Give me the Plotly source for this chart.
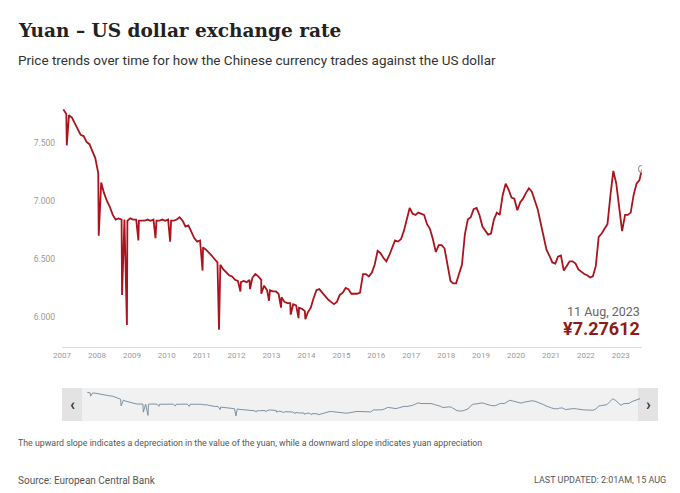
import plotly.graph_objects as go
import pandas as pd

# ---- data (monthly readings, approx.) ----
rate_2007 = [7.79, 7.75, 7.74, 7.72, 7.67, 7.63, 7.57, 7.56, 7.51, 7.49, 7.42, 7.37]
rate_2008 = [7.24, 7.16, 7.07, 7.00, 6.95, 6.88, 6.84, 6.85, 6.84, 6.84, 6.83, 6.85]
rate_2009 = [6.84, 6.84, 6.83, 6.83, 6.83, 6.84, 6.83, 6.84, 6.83, 6.83, 6.84, 6.83]
rate_2010 = [6.84, 6.83, 6.83, 6.84, 6.86, 6.83, 6.78, 6.79, 6.73, 6.68, 6.65, 6.66]
rate_2011 = [6.60, 6.58, 6.56, 6.53, 6.50, 6.47, 6.45, 6.41, 6.38, 6.36, 6.35, 6.32]
rate_2012 = [6.31, 6.30, 6.31, 6.30, 6.32, 6.34, 6.37, 6.35, 6.32, 6.27, 6.23, 6.23]
rate_2013 = [6.22, 6.22, 6.20, 6.17, 6.13, 6.12, 6.12, 6.11, 6.10, 6.08, 6.07, 6.05]
rate_2014 = [6.04, 6.08, 6.16, 6.23, 6.24, 6.21, 6.18, 6.15, 6.13, 6.11, 6.13, 6.19]
rate_2015 = [6.21, 6.25, 6.24, 6.20, 6.20, 6.20, 6.21, 6.37, 6.37, 6.35, 6.38, 6.45]
rate_2016 = [6.57, 6.55, 6.51, 6.48, 6.53, 6.59, 6.66, 6.65, 6.67, 6.74, 6.84, 6.94]
rate_2017 = [6.89, 6.88, 6.90, 6.89, 6.88, 6.80, 6.76, 6.67, 6.56, 6.62, 6.62, 6.59]
rate_2018 = [6.43, 6.31, 6.29, 6.29, 6.37, 6.45, 6.71, 6.84, 6.86, 6.93, 6.94, 6.88]
rate_2019 = [6.78, 6.74, 6.71, 6.72, 6.84, 6.90, 6.88, 7.05, 7.15, 7.10, 7.03, 7.02]
rate_2020 = [6.92, 6.99, 7.02, 7.07, 7.11, 7.08, 7.00, 6.93, 6.81, 6.70, 6.58, 6.53]
rate_2021 = [6.47, 6.46, 6.52, 6.53, 6.40, 6.44, 6.48, 6.48, 6.46, 6.41, 6.39, 6.37]
rate_2022 = [6.36, 6.34, 6.35, 6.44, 6.69, 6.72, 6.76, 6.80, 7.05, 7.26, 7.15, 6.95]
rate_2023 = [6.74, 6.88, 6.88, 6.90, 7.05, 7.15, 7.18]

last_date = "2023-08-11"
last_value = 7.27612

# single-day outliers visible in the chart
spike_dates = ["2007-02-20", "2008-01-20", "2008-09-20", "2008-11-10", "2009-03-10",
               "2009-09-05", "2010-02-05", "2011-01-10", "2011-07-01", "2012-02-10",
               "2012-05-20", "2012-09-15", "2012-12-05", "2013-04-10", "2013-07-20",
               "2013-10-10", "2013-12-20"]
spike_values = [7.48, 6.70, 6.19, 5.93, 6.66,
                6.68, 6.65, 6.40, 5.89, 6.22,
                6.24, 6.20, 6.14, 6.08, 6.02,
                5.99, 5.98]

year_labels = [str(y) for y in range(2007, 2024)]
ytick_vals = [6.0, 6.5, 7.0, 7.5]
ytick_text = ["6.000", "6.500", "7.000", "7.500"]

yearly = {2007: rate_2007, 2008: rate_2008, 2009: rate_2009, 2010: rate_2010,
          2011: rate_2011, 2012: rate_2012, 2013: rate_2013, 2014: rate_2014,
          2015: rate_2015, 2016: rate_2016, 2017: rate_2017, 2018: rate_2018,
          2019: rate_2019, 2020: rate_2020, 2021: rate_2021, 2022: rate_2022,
          2023: rate_2023}

rows = []
for yr, vals in yearly.items():
    for m, v in enumerate(vals, start=1):
        rows.append((pd.Timestamp(yr, m, 15), v))
for d, v in zip(spike_dates, spike_values):
    rows.append((pd.Timestamp(d), v))
rows.append((pd.Timestamp(last_date), last_value))
df = pd.DataFrame(rows, columns=["date", "rate"]).sort_values("date")

# ---- layout helpers (pixel -> paper) ----
W, H = 680, 493
ML, MR, MT, MB = 62, 18, 100, 60
PW, PH = W - ML - MR, H - MT - MB


def pxx(x):
    return (x - ML) / PW


def pxy(y):
    return (H - MB - y) / PH


RED = "#aa141c"
fig = go.Figure()
fig.add_trace(go.Scatter(x=df["date"], y=df["rate"], mode="lines",
                         line=dict(color=RED, width=1.8), hoverinfo="skip",
                         xaxis="x", yaxis="y"))
fig.add_trace(go.Scatter(x=[pd.Timestamp(last_date)], y=[last_value], mode="markers",
                         marker=dict(size=7, color="rgba(255,255,255,0.6)",
                                     line=dict(color="#9a9a9a", width=1.2)),
                         xaxis="x", yaxis="y"))
# navigator mini series
fig.add_trace(go.Scatter(x=df["date"], y=df["rate"], mode="lines",
                         line=dict(color="#6f8799", width=0.9),
                         xaxis="x2", yaxis="y2"))

shapes = [
    dict(type="rect", xref="paper", yref="paper", x0=pxx(62), x1=pxx(658),
         y0=pxy(421), y1=pxy(388), fillcolor="#f1f1f1", line=dict(width=0), layer="below"),
    dict(type="rect", xref="paper", yref="paper", x0=pxx(62), x1=pxx(82),
         y0=pxy(421), y1=pxy(388), fillcolor="#e3e3e3", line=dict(width=0), layer="below"),
    dict(type="rect", xref="paper", yref="paper", x0=pxx(638), x1=pxx(658),
         y0=pxy(421), y1=pxy(388), fillcolor="#e3e3e3", line=dict(width=0), layer="below"),
]

ann = []


def add_text(text, x, y, size, color, family="Roboto", xanchor="left", bold=False):
    ann.append(dict(text=("<b>%s</b>" % text) if bold else text, x=pxx(x), y=pxy(y),
                    xref="paper", yref="paper", xanchor=xanchor, yanchor="middle",
                    showarrow=False, font=dict(size=size, color=color, family=family)))


add_text("Yuan – US dollar exchange rate", 16, 31, 18.5, "#222", family="DejaVu Serif", bold=True)
add_text("Price trends over time for how the Chinese currency trades against the US dollar",
         16, 60, 13.5, "#333")
add_text("11 Aug, 2023", 642, 311, 12.5, "#666", xanchor="right")
add_text("¥7.27612", 642, 328, 18, "#8e1b1b", xanchor="right", bold=True)
add_text("‹", 72, 404, 16, "#333", bold=True, xanchor="center")
add_text("›", 648, 404, 16, "#333", bold=True, xanchor="center")
add_text("The upward slope indicates a depreciation in the value of the yuan, while a downward "
         "slope indicates yuan appreciation", 16, 443, 8.8, "#555")
add_text("Source: European Central Bank", 16, 480, 10, "#555")
add_text("LAST UPDATED: 2:01AM, 15 AUG", 668, 480, 9, "#555", xanchor="right")

fig.update_layout(
    width=W, height=H, margin=dict(l=ML, r=MR, t=MT, b=MB),
    paper_bgcolor="white", plot_bgcolor="rgba(0,0,0,0)", showlegend=False,
    font=dict(family="Roboto", color="#999"),
    xaxis=dict(domain=[0, pxx(642)], range=["2007-01-01", "2023-08-11"], type="date",
               tickvals=[pd.Timestamp(int(y), 1, 1) for y in year_labels], ticktext=year_labels,
               showgrid=False, zeroline=False, showline=True, linecolor="#dcdcdc", linewidth=1,
               ticks="", tickfont=dict(size=8, color="#999"), anchor="y"),
    yaxis=dict(domain=[pxy(347), 1], range=[5.741, 7.871], tickvals=ytick_vals,
               ticktext=ytick_text, showgrid=False, zeroline=False, ticks="",
               ticklabelstandoff=6,
               tickfont=dict(size=8.5, color="#999"), anchor="x"),
    xaxis2=dict(domain=[pxx(86), pxx(640)], range=["2007-01-01", "2023-08-11"], type="date",
                visible=False, anchor="y2"),
    yaxis2=dict(domain=[pxy(417), pxy(391)], range=[5.8, 7.9], visible=False, anchor="x2"),
    shapes=shapes, annotations=ann,
)

fig.write_html("out.html")
